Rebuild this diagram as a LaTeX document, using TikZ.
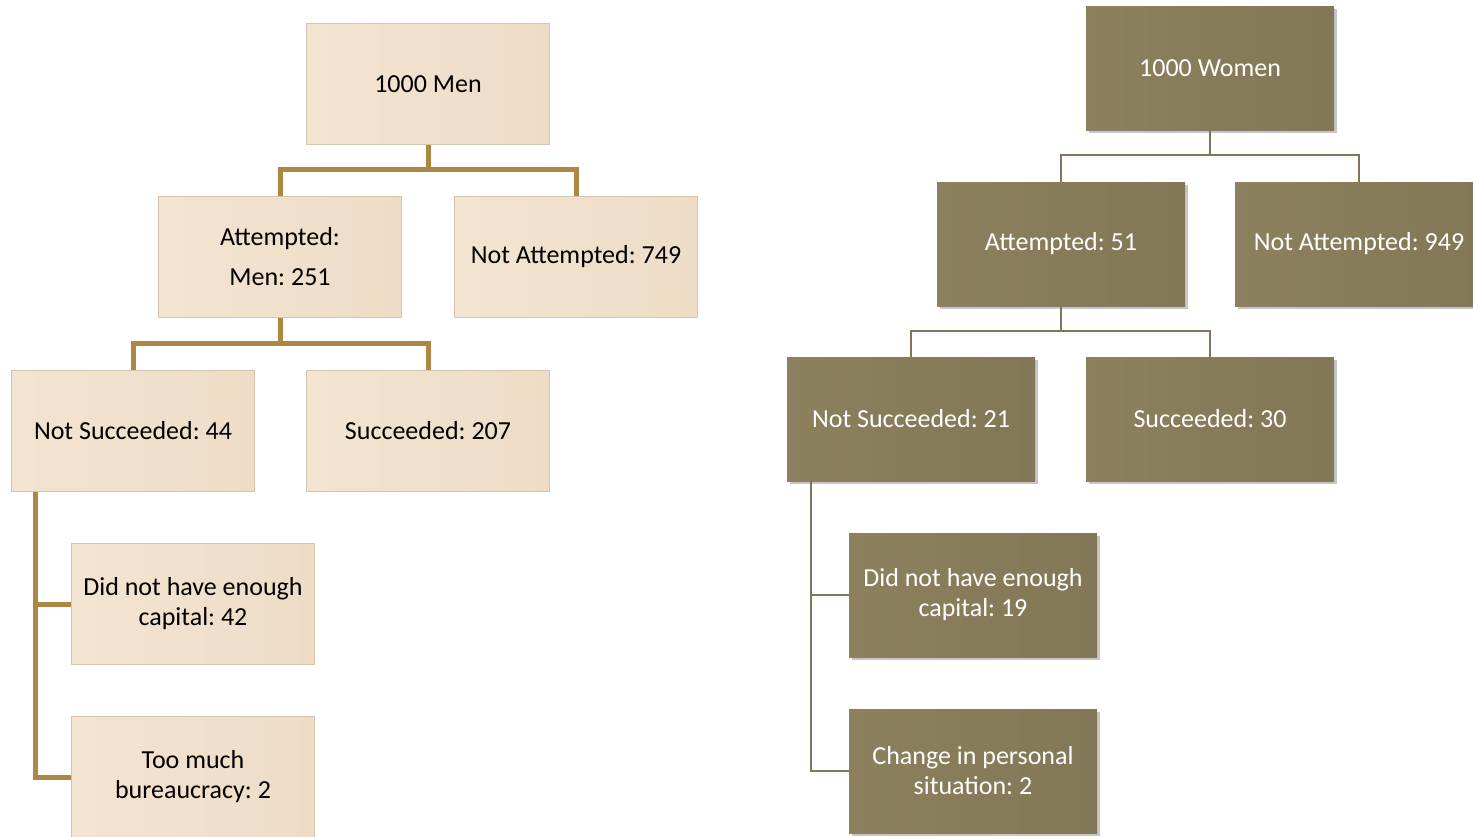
\documentclass[tikz,border=0pt]{standalone}
\usepackage{fontspec}
\setmainfont{Carlito}
\usetikzlibrary{shadows}
\definecolor{menfill}{RGB}{243,228,210}
\definecolor{menfilldark}{RGB}{238,220,198}
\definecolor{menedge}{RGB}{214,196,176}
\definecolor{menline}{RGB}{172,136,66}
\definecolor{womenfill}{RGB}{140,128,94}
\definecolor{womenfilldark}{RGB}{130,119,86}
\definecolor{womenline}{RGB}{128,118,92}
\tikzset{
  menbox/.style={draw=menedge, line width=1.5pt, left color=menfill, right color=menfilldark,
    minimum width=243, minimum height=121, align=center, text=black, inner sep=0pt},
  womenbox/.style={draw=none, left color=womenfill, right color=womenfilldark,
    drop shadow={shadow xshift=3pt, shadow yshift=-3pt, opacity=.45},
    minimum width=248, minimum height=124, align=center, text=white, inner sep=0pt},
  menlink/.style={draw=menline, line width=5pt},
  womenlink/.style={draw=womenline, line width=1.8pt},
}
\begin{document}
\frenchspacing
\begin{tikzpicture}[x=1pt, y=-1pt, font=\fontsize{26}{30}\selectfont]
\useasboundingbox (0,0) rectangle (1473,836);
\begin{scope}
\clip (0,0) rectangle (1473,836);
% men
\node[menbox] (men) at (428,84) {1000 Men};
\node[menbox] (matt) at (280,257) {Attempted:\\[10pt]Men: 251};
\node[menbox] (mnot) at (576,257) {Not Attempted: 749};
\node[menbox] (mfail) at (133,431) {Not Succeeded: 44};
\node[menbox] (mwin) at (428,431) {Succeeded: 207};
\node[menbox] (mcap) at (193,604) {Did not have enough\\capital: 42};
\node[menbox] (mbur) at (193,777) {Too much\\bureaucracy: 2};
\draw[menlink] (men.south) -- ++(0,24) -| (matt.north);
\draw[menlink] (men.south) -- ++(0,24) -| (mnot.north);
\draw[menlink] (matt.south) -- ++(0,25) -| (mfail.north);
\draw[menlink] (matt.south) -- ++(0,25) -| (mwin.north);
\draw[menlink] (mfail.south -| 35,0) |- (mcap.west);
\draw[menlink] (mfail.south -| 35,0) |- (mbur.west);
% women
\node[womenbox] (women) at (1210,68) {1000 Women};
\node[womenbox] (watt) at (1061,244) {Attempted: 51};
\node[womenbox] (wnot) at (1359,244) {Not Attempted: 949};
\node[womenbox] (wfail) at (911,419) {Not Succeeded: 21};
\node[womenbox] (wwin) at (1210,419) {Succeeded: 30};
\node[womenbox] (wcap) at (973,595) {Did not have enough\\capital: 19};
\node[womenbox] (wsit) at (973,771) {Change in personal\\situation: 2};
\draw[womenlink] (women.south) -- ++(0,25) -| (watt.north);
\draw[womenlink] (women.south) -- ++(0,25) -| (wnot.north);
\draw[womenlink] (watt.south) -- ++(0,25) -| (wfail.north);
\draw[womenlink] (watt.south) -- ++(0,25) -| (wwin.north);
\draw[womenlink] (wfail.south -| 811,0) |- (wcap.west);
\draw[womenlink] (wfail.south -| 811,0) |- (wsit.west);
\end{scope}
\end{tikzpicture}
\end{document}
